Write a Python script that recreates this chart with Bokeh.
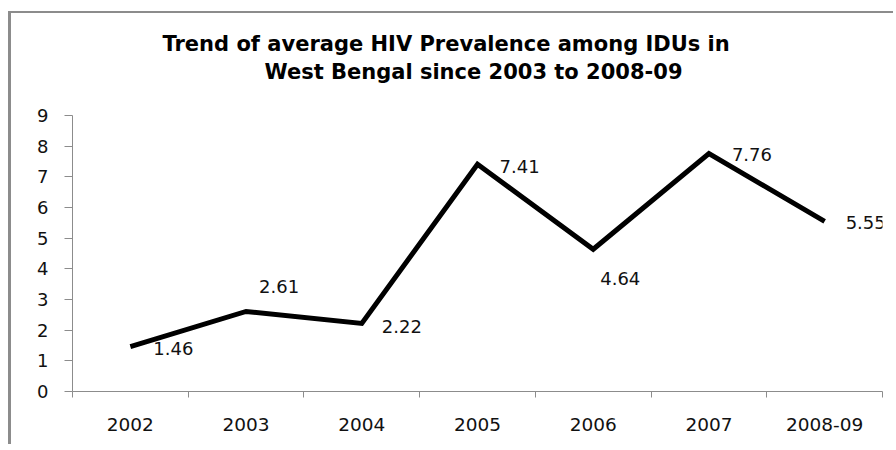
import numpy as np
from bokeh.plotting import figure
from bokeh.models import Range1d, FixedTicker, Title, LabelSet, ColumnDataSource
from bokeh.core.properties import value
from bokeh.embed import file_html
from bokeh.resources import INLINE

# ---- data ----
categories = ["2002", "2003", "2004", "2005", "2006", "2007", "2008-09"]
prevalence = [1.46, 2.61, 2.22, 7.41, 4.64, 7.76, 5.55]
value_labels = ["1.46", "2.61", "2.22", "7.41", "4.64", "7.76", "5.55"]
y_ticks = [0, 1, 2, 3, 4, 5, 6, 7, 8, 9]
title_line1 = "Trend of average HIV Prevalence among IDUs in"
title_line2 = "West Bengal since 2003 to 2008-09"

# label placement (screen px), style only
label_dx = [23, 13, 20, 22, 7, 23, 21]
label_dy = [-2, 25, -3, -2, -29, -1, -1]

n = len(categories)
xpos = np.arange(n) + 0.5

OX, OY = 11, 13            # canvas origin on the page (after margin + border)
W, H = 896 - OX, 450 - OY - 4
FL, FR, FT, FB = 72, 882, 115, 391   # frame edges on the page
p = figure(width=W, height=H, output_backend="svg", toolbar_location=None,
           x_range=Range1d(0, n), y_range=Range1d(0, 9),
           min_border_left=FL - OX, min_border_right=W - (FR - OX),
           min_border_bottom=H - (FB - OY), min_border_top=FT - OY)
p.styles = {"border-left": "3px solid #8c8c8c", "border-top": "2px solid #8c8c8c",
            "margin-left": "8px", "margin-top": "11px"}
p.outline_line_color = None
p.xgrid.grid_line_color = None
p.ygrid.grid_line_color = None
p.background_fill_color = "white"
p.border_fill_color = "white"

# titles: first added Title is nearest the plot; p.title is outermost
title_font = dict(text_font="DejaVu Sans", text_font_style="bold",
                  text_font_size="21px", text_color="black")
p.title.text = title_line1
p.title.align = "left"
p.title.offset = 90
p.title.standoff = 0
for k, v in title_font.items():
    setattr(p.title, k, v)
# blank spacer between plot area and the title lines
p.add_layout(Title(text=" ", align="left", standoff=4, **title_font), "above")
p.add_layout(Title(text=title_line2, align="left", offset=192, standoff=4,
                   **title_font), "above")

src = ColumnDataSource(dict(x=xpos, y=prevalence, lbl=value_labels,
                            dx=label_dx, dy=label_dy))
p.line("x", "y", source=src, line_color="black", line_width=5, line_join="miter")

labels = LabelSet(x="x", y="y", text="lbl", source=src, x_offset="dx", y_offset="dy",
                  text_align="left", text_baseline="middle",
                  text_font=value("DejaVu Sans"), text_font_size=value("18px"),
                  text_color=value("#111111"))
p.add_layout(labels)

# y axis
ya = p.yaxis[0]
ya.ticker = FixedTicker(ticks=y_ticks)
ya.axis_line_color = "#8c8c8c"
ya.major_tick_line_color = "#8c8c8c"
ya.major_tick_out = 8
ya.major_tick_in = 0
ya.minor_tick_line_color = None
ya.major_label_standoff = 16
ya.major_label_text_font = "DejaVu Sans"
ya.major_label_text_font_size = "18px"
ya.major_label_text_color = "#111111"

# x axis: labels at category centers, tick marks at boundaries
xa = p.xaxis[0]
xa.ticker = FixedTicker(ticks=list(xpos), minor_ticks=list(range(n + 1)))
xa.major_label_overrides = {float(v): c for v, c in zip(xpos, categories)}
xa.axis_line_color = "#8c8c8c"
xa.major_tick_line_color = None
xa.major_tick_out = 0
xa.major_tick_in = 0
xa.minor_tick_line_color = "#8c8c8c"
xa.minor_tick_out = 6
xa.minor_tick_in = 0
xa.major_label_standoff = 20
xa.major_label_text_font = "DejaVu Sans"
xa.major_label_text_font_size = "18.5px"
xa.major_label_text_color = "#111111"

open("out.html", "w").write(file_html(p, INLINE))
